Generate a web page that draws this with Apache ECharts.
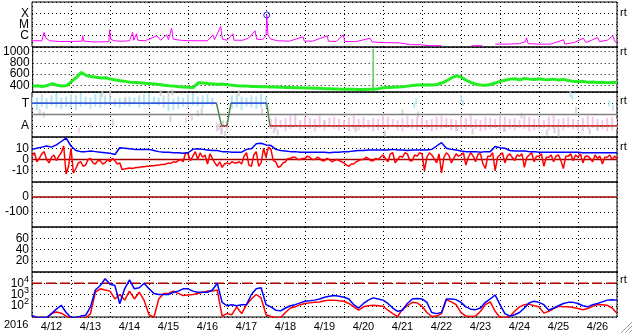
<!DOCTYPE html>
<html><head><meta charset="utf-8">
<script src="https://cdn.jsdelivr.net/npm/echarts@6.0.0/dist/echarts.min.js"></script>
<style>html,body{margin:0;padding:0;background:#fff;overflow:hidden}#chart{width:633px;height:334px}</style>
</head><body><div id="chart"></div>
<script>
// ================= DATA =================
const dayLabels = ['4/12','4/13','4/14','4/15','4/16','4/17','4/18','4/19','4/20','4/21','4/22','4/23','4/24','4/25','4/26'];
const yearLabel = '2016';
const sampleStepDays = 0.125;   // 3-hour samples, day 0 = 4/12 00:00
const bzStepDays = 0.0625;      // 1.5-hour samples

// Panel 1: X-ray flux (W/m2)
const xrayClassFlux = [1e-6, 1e-5, 1e-4];
const xrayClassLabels = ['C', 'M', 'X'];
const xrayDay = [0,0.25,0.31,0.36,0.45,0.7,1.0,1.28,1.30,1.33,1.6,1.97,1.99,2.02,2.1,2.3,2.5,2.58,2.61,2.68,2.71,2.9,3.0,3.2,3.3,3.45,3.5,3.58,3.62,3.8,4.0,4.3,4.5,4.64,4.68,4.84,4.88,5.0,5.15,5.18,5.4,5.55,5.72,5.76,5.9,6.0,6.02,6.05,6.12,6.3,6.6,6.95,6.98,7.2,7.57,7.6,7.8,7.98,8.02,8.3,8.67,8.72,9.0,9.44,9.7,9.95,10.2,10.5,10.55,11.27,11.55,11.57,11.88,12.2,12.5,12.65,12.68,12.72,13.0,13.3,13.63,13.66,13.9,14.14,14.2,14.35,14.5,14.55,14.75,14.89,14.95,15.0];
const xrayFlux = [3.6e-7,3.6e-7,2e-6,6e-7,3.6e-7,3.1e-7,3.1e-7,3.3e-7,1e-6,3.3e-7,2.8e-7,3e-7,3.4e-6,5e-7,3.6e-7,3.2e-7,3.6e-7,2e-6,4e-7,1.5e-6,4e-7,3.6e-7,5e-7,1e-6,4e-7,1.2e-6,4.5e-7,4.8e-6,5e-7,4e-7,3.6e-7,3.6e-7,3.6e-7,1.2e-6,4.5e-7,6.6e-6,5e-7,4e-7,1.5e-6,4e-7,4e-7,6e-7,2.8e-6,5e-7,4.5e-7,1e-6,7e-5,1.2e-6,5e-7,3.6e-7,3.3e-7,8e-7,3.3e-7,3.3e-7,1e-6,3.3e-7,3.1e-7,1.2e-6,3.1e-7,3e-7,6e-7,2.8e-7,2.5e-7,2.3e-7,1.6e-7,1.6e-7,1.3e-7,1.3e-7,null,1.3e-7,1.3e-7,null,1.8e-7,1.8e-7,2e-7,3e-7,6.6e-7,2e-7,1.8e-7,1.8e-7,4.4e-7,1.8e-7,2.5e-7,6e-7,2.5e-7,4e-7,7e-7,3e-7,4e-7,1e-6,3e-7,2.5e-7];
const flarePeakDay = [6.02];
const flarePeakFlux = [7e-5];

// Panel 2: solar wind speed (km/s), 3-hour samples
const speedTicks = [400, 600, 800, 1000];
const speedKmS = [
 385,392,378,395,430,400,388,395,
 470,540,630,575,555,545,530,535,
 510,495,480,470,455,450,445,435,
 430,425,415,400,392,385,375,370,
 365,362,445,440,430,425,420,422,
 410,400,392,388,385,380,378,375,
 372,370,368,365,362,360,358,355,
 352,350,348,345,340,338,335,332,
 330,328,327,325,325,328,330,340,
 355,362,365,370,375,385,395,405,
 405,410,405,415,440,480,530,570,
 545,490,450,420,405,400,415,440,
 470,490,510,515,500,520,510,505,
 515,505,500,510,495,505,485,470,
 465,470,455,460,450,455,445,450,
 450];
const speedSpikeDay = [8.73, 8.74, 8.75];
const speedSpikeKmS = [330, 1050, 330];

// Panel 3: IMF sector (T = toward, A = away)
const sectorTickValues = [1, 3];
const sectorTickLabels = ['A', 'T'];
const sectorMidLevel = 2;
const sectorDay = [0, 4.73, 4.86, 5.0, 5.1, 6.02, 6.1, 15];
const sectorLevel = [3, 3, 1, 1, 3, 3, 1, 1];
const towardStartDay = 0;
const towardLo = [2.6,2.4,2.7,2.5,2.8,2.6,2.5,2.7, 2.6,2.4,2.7,2.8,2.5,2.7,2.6,2.8, 2.9,2.7,2.6,2.8,2.7,2.9,2.6,2.8, 2.7,2.9,2.8,2.6,2.3,2.4,2.5,2.7, 2.6,2.8,2.7,2.6,2.9,2.8,null,null, null,2.5,2.6,2.4,2.7,2.6,2.5,2.6, 2.7];
const towardHi = [3.6,3.5,3.8,3.4,3.7,3.9,3.5,3.6, 3.8,3.7,3.9,3.6,3.5,3.8,3.9,3.7, 3.6,3.4,3.5,3.4,3.6,3.5,3.7,3.8, 3.9,3.6,3.5,3.7,3.5,3.4,3.6,3.5, 3.8,3.9,3.6,3.7,3.8,3.5,null,null, null,3.7,3.8,3.6,3.5,3.7,3.6,3.8, 3.6];
const awayDipStartDay = 4.75;
const awayDipLo = [0.5, 0.3, 0.6];
const awayDipHi = [1.3, 1.2, 1.4];
const awayStartDay = 6.125;
const awayLo = [0.7,0.6,0.8,0.5,0.7,0.9,0.6,0.8, 0.7,0.5,0.8,0.6,0.9,0.7,0.6,0.8, 0.5,0.7,0.6,0.8,0.7,0.5,0.6,0.8, 0.7,0.9,0.6,0.5,0.8,0.7,0.6,0.8, 0.7,0.5,0.6,0.7,0.8,0.6,0.5,0.7, 0.6,0.8,0.7,0.5,0.6,0.7,0.8,0.6, 0.5,0.7,0.6,0.8,0.7,0.5,0.6,0.7, 0.8,0.6,0.7,0.5,0.6,0.8,0.7,0.6, 0.5,0.7,0.8,0.6,0.7,0.5,0.6,0.7];
const awayHi = [1.6,1.8,1.5,1.7,1.9,1.6,1.5,1.8, 1.7,1.6,1.9,1.5,1.7,1.8,1.6,1.5, 1.7,1.9,1.6,1.8,1.5,1.7,1.6,1.9, 1.8,1.6,1.5,1.7,1.9,1.6,1.8,1.7, 1.5,1.6,1.8,1.9,1.7,1.6,1.5,1.8, 1.7,1.9,1.6,1.5,1.8,1.7,1.6,1.9, 1.8,1.6,1.7,1.5,1.9,1.8,1.6,1.7, 1.5,1.8,1.9,1.6,1.7,1.8,1.6,1.5, 1.7,1.9,1.8,1.6,1.5,1.7,1.8,1.6];
const grayDotDay = [0.2,0.3,1.8,2.0,2.07,2.4,3.3,3.5,3.6,3.55,4.25,4.35,4.8,4.85,4.9,4.95,5.3,5.9,6.2,6.3,6.75,7.5,8.3,9.05,9.5,9.9,10.9,11.3,12.1,12.55,13.2,13.4,13.5,13.95,14.3,14.5];
const grayDotVal = [2.2,2.0,3.8,3.9,1.3,3.3,3.9,3.8,3.95,1.6,2.1,2.3,0.9,0.5,1.2,0.3,3.9,2.3,0.6,0.4,1.8,1.2,0.7,0.3,2.2,2.0,0.8,0.5,0.7,1.9,0.4,0.6,0.3,2.4,0.5,0.8];
const towardDotDay = [9.8,9.85,11.0,11.05,13.8,13.85,14.8,14.9];
const towardDotVal = [2.8,3.2,3.5,3.0,3.8,3.6,3.0,2.6];
const awayDotDay = [1.2,1.5,3.95,4.1];
const awayDotVal = [0.6,1.0,1.5,1.7];

// Panel 4: IMF Bt (blue, 3-hour) and Bz (red, 1.5-hour), nT
const imfTicks = [-10, 0, 10];
const imfBt = [
 9,10,11,12,11,13,16,19,
 12,8,7,7,7.5,7,6.5,6,
 5.5,4.5,10.5,10,9.5,9,9,9,
 9,8,7,6.5,6.5,6,6,5.5,
 6,9,9.5,9,8.5,8,8,7,
 7,6.5,6.5,6.5,9,9.5,14,14.5,
 13,12.5,9,8,7.5,7,7,6.5,
 6.5,6.5,6.5,6.5,6.5,6,6.5,6.5,
 7,7,7.5,8,8,8.5,8.5,8.5,
 8.5,8.5,9,8.5,8.5,8,8.5,8.5,
 8.5,8.5,9,12,15,10,9,8.5,
 7.5,7,7,7,6.5,7,7,11.5,
 10.5,10,8,7.5,7.5,7.5,7,7,
 6.5,6.5,6.5,6.5,6.5,6.5,6.5,6.5,
 6.5,6,6,6,6,6,6,6,
 6];
const imfBz = [
 3,6,-2,1,5,7,0,-3,2,4,-1,3,6,12,-13,-6,
 10,-12,-8,-3,-2,-6,-5,0,1,-3,-4,-1,-1,-4,-3,0,
 -2,1,-1,-4,-3,-9,-8.5,-8,-7.5,-8,-7.5,-7,-7,-6.5,-6.5,-6,
 -6,-5.5,-5.5,-5,-5,-4.5,-4.5,-4,-3,-3.5,-2,-2.5,-1,0,-2,6,
 5,-1,3,7,0,6,2,4,-4,5,1,-3,-6,-2,-7,-4,
 -3,-4,-2,-3,-3,-2,-4,3,6,-5,-6,4,7,-6,-3,10,
 2,11,9,-1,-2,-7,-6,-3,-2,1,1,2,2,0,0,1,
 1,3,2,0,0,2,1,-1,-1,1,0,-2,-1,0,-1,-2,
 -3,-5,-6,-4,-4,-2,-1,0,0,2,1,-1,-1,1,0,2,
 4,1,-2,5,6,-3,0,3,2,6,5,-1,-1,4,3,6,
 5,-10,2,6,4,1,-3,5,-12,2,6,4,-3,1,5,3,
 4,6,-5,2,6,3,-2,5,5,-4,-8,3,3,6,-10,2,
 4,6,-3,3,5,2,-1,4,3,5,-7,2,4,6,-2,3,
 3,5,-6,2,2,4,-2,3,4,-1,-8,3,3,5,-1,4,
 2,5,-3,3,3,1,-2,4,1,3,-4,2,2,4,0,3,
 1];

// Panel 5 & 6
const dstTicks = [-100, 0];
const panel6Ticks = [20, 40, 60];
const zeroLevel = 0;

// Panel 7: electron flux, 3-hour samples
const fluxTickExp = [2, 3, 4];
const fluxAlertLevel = 1e4;
const fluxBlue = [
 14,9,9,9,20,50,110,25,
 9,9,12,14,80,2500,6300,25000,
 8000,6300,150,3200,20000,3200,4000,10000,
 3200,1250,1000,1000,1000,1600,2000,3200,
 3200,2000,1600,1600,1600,2500,10000,200,
 100,125,100,125,125,1000,3200,4000,
 125,80,40,35,63,100,125,180,
 250,280,316,400,560,700,800,700,
 560,400,125,63,160,316,500,400,
 316,160,63,32,40,160,400,450,
 400,200,25,20,25,400,400,350,
 200,80,50,45,63,200,400,900,
 125,20,12,16,25,63,180,250,
 200,125,40,63,100,160,200,200,
 160,100,80,125,160,220,316,350,
 316];
const fluxRed = [
 8,8,8,8,20,28,22,12,
 8,8,8,8,20,1600,3200,2500,
 2000,400,1000,316,2000,400,1600,300,
 16,9,400,1250,1250,2000,1250,800,
 900,1000,1250,1600,2000,2000,2500,12,
 20,16,80,20,125,400,1000,500,
 16,11,9,9,25,63,80,125,
 160,180,200,220,280,316,316,280,
 250,160,80,40,80,100,110,100,
 90,40,20,11,50,100,200,180,
 90,25,11,12,20,350,220,125,
 25,12,11,12,32,125,220,32,
 9,9,11,32,80,125,140,100,
 80,22,32,56,90,80,80,70,
 56,45,56,90,125,125,110,63,
 22];

// ================= CHART =================
const FONT = '"Liberation Sans", Arial, sans-serif';
const panelTop = [2, 47, 92, 137, 182, 227, 272];
const PANEL_H = 45, LEFT = 32, WIDTH = 585;
const nDays = dayLabels.length;

const seriesStep = (vals, step) => vals.map((v, i) => [i * step, v]);
const zip = (xs, ys) => xs.map((x, i) => [x, ys[i] == null ? NaN : ys[i]]);

const dotted = { show: true, lineStyle: { color: '#000', type: [1, 3], width: 1 } };
const lab = (extra) => Object.assign({ show: true, color: '#000', fontSize: 12, fontFamily: FONT, margin: 3, showMinLabel: true, showMaxLabel: true }, extra);
const noLine = { show: false };
const pick = (list) => (v => list.some(t => Math.abs(t - v) < 1e-6) ? String(v) : '');

const grids = panelTop.map(t => ({ left: LEFT, top: t, width: WIDTH, height: PANEL_H, show: true, borderColor: '#000', borderWidth: 1, backgroundColor: 'transparent' }));

const xAxes = panelTop.map((t, i) => ({
  gridIndex: i, type: 'value', min: 0, max: nDays, interval: 1,
  axisLine: noLine, axisTick: { show: false },
  axisLabel: i === 6 ? {
    show: true, customValues: dayLabels.map((_, k) => k + 0.5),
    formatter: v => dayLabels[Math.floor(v)], fontSize: 11, color: '#000', fontFamily: FONT, margin: 4
  } : { show: false },
  splitLine: dotted
}));

const yAxes = [
  { gridIndex: 0, type: 'log', logBase: 10, min: 1e-7, max: 1e-3, axisLine: noLine, axisTick: { show: false }, splitLine: dotted,
    axisLabel: lab({ formatter: v => { const k = xrayClassFlux.findIndex(f => Math.abs(Math.log10(f) - Math.log10(v)) < 0.01); return k >= 0 ? xrayClassLabels[k] : ''; } }) },
  { gridIndex: 1, type: 'value', min: 280, max: 1084, splitNumber: 4, axisLine: noLine, axisTick: { show: false }, splitLine: dotted,
    axisLabel: lab({ formatter: pick(speedTicks) }) },
  { gridIndex: 2, type: 'value', min: 0, max: 4, interval: 1, axisLine: noLine, axisTick: { show: false }, splitLine: dotted,
    axisLabel: lab({ formatter: v => { const k = sectorTickValues.indexOf(v); return k >= 0 ? sectorTickLabels[k] : ''; } }) },
  { gridIndex: 3, type: 'value', min: -20, max: 20, interval: 10, axisLine: noLine, axisTick: { show: false }, splitLine: dotted,
    axisLabel: lab({ formatter: pick(imfTicks) }) },
  { gridIndex: 4, type: 'value', min: -200, max: 100, interval: 100, axisLine: noLine, axisTick: { show: false }, splitLine: dotted,
    axisLabel: lab({ formatter: pick(dstTicks) }) },
  { gridIndex: 5, type: 'value', min: 0, max: 80, interval: 20, axisLine: noLine, axisTick: { show: false }, splitLine: dotted,
    axisLabel: lab({ formatter: pick(panel6Ticks) }) },
  { gridIndex: 6, type: 'log', logBase: 10, min: 10, max: 1e5, axisLine: noLine, axisTick: { show: false }, splitLine: dotted,
    axisLabel: lab({
      formatter: v => { const e = Math.round(Math.log10(v)); return fluxTickExp.includes(e) ? '{b|10}{s|' + e + '}' : ''; },
      rich: { b: { fontSize: 12, fontFamily: FONT, color: '#000' }, s: { fontSize: 9, fontFamily: FONT, color: '#000', padding: [0, 0, 8, 0] } }
    }) }
];

function bandSeries(startDay, lo, hi, color, name) {
  const data = [];
  lo.forEach((l, i) => { if (l != null && hi[i] != null) data.push([startDay + i * sampleStepDays, l, hi[i]]); });
  return {
    type: 'custom', name, xAxisIndex: 2, yAxisIndex: 2, clip: true, silent: true, z: 1,
    encode: { x: 0, y: [1, 2] }, data,
    renderItem: (params, api) => {
      const a = api.coord([api.value(0), api.value(2)]);
      const b = api.coord([api.value(0), api.value(1)]);
      return { type: 'rect', shape: { x: a[0] - 1, y: a[1], width: 2, height: b[1] - a[1] }, style: { fill: color } };
    }
  };
}

const sectorGreen = zip(sectorDay, sectorLevel);
const sectorT = [], sectorA = [];
for (let k = 0; k < sectorDay.length - 1; k++) {
  if (sectorLevel[k] === sectorLevel[k + 1]) {
    const target = sectorLevel[k] === 3 ? sectorT : sectorA;
    target.push([sectorDay[k], sectorLevel[k]], [sectorDay[k + 1], sectorLevel[k + 1]], [sectorDay[k + 1], NaN]);
  }
}

const lineBase = (xi, data, color, width, z, dash) => ({
  type: 'line', xAxisIndex: xi, yAxisIndex: xi, data, symbol: 'none', showSymbol: false,
  lineStyle: { color, width, type: dash || 'solid' }, itemStyle: { color }, connectNulls: false, clip: true, silent: true, z: z || 2
});

const series = [
  lineBase(0, zip(xrayDay, xrayFlux), '#ff00ff', 1),
  { type: 'scatter', xAxisIndex: 0, yAxisIndex: 0, data: zip(flarePeakDay, flarePeakFlux), symbol: 'circle', symbolSize: 6,
    itemStyle: { color: 'rgba(0,0,0,0)', borderColor: '#0000ff', borderWidth: 1 }, silent: true, z: 3 },
  lineBase(1, seriesStep(speedKmS, sampleStepDays), '#22ee22', 3),
  lineBase(1, zip(speedSpikeDay, speedSpikeKmS), '#66cc66', 1),
  bandSeries(towardStartDay, towardLo, towardHi, '#b4e4f4', 'toward'),
  bandSeries(awayDipStartDay, awayDipLo, awayDipHi, '#f4c4ee', 'awayDip'),
  bandSeries(awayStartDay, awayLo, awayHi, '#f4c4ee', 'away'),
  { type: 'scatter', xAxisIndex: 2, yAxisIndex: 2, data: zip(grayDotDay, grayDotVal), symbol: 'rect', symbolSize: [2, 6], itemStyle: { color: '#cccccc' }, silent: true, z: 1 },
  { type: 'scatter', xAxisIndex: 2, yAxisIndex: 2, data: zip(towardDotDay, towardDotVal), symbol: 'rect', symbolSize: [2, 6], itemStyle: { color: '#b4e4f4' }, silent: true, z: 1 },
  { type: 'scatter', xAxisIndex: 2, yAxisIndex: 2, data: zip(awayDotDay, awayDotVal), symbol: 'rect', symbolSize: [2, 5], itemStyle: { color: '#f4c4ee' }, silent: true, z: 1 },
  lineBase(2, [[0, sectorMidLevel], [nDays, sectorMidLevel]], '#808080', 1.5, 3),
  lineBase(2, sectorGreen, '#4a8a4a', 1.5, 4),
  lineBase(2, sectorT, '#3355ee', 1.5, 5),
  lineBase(2, sectorA, '#dd3333', 1.5, 5),
  lineBase(3, [[0, zeroLevel], [nDays, zeroLevel]], '#a00000', 1.5, 2),
  lineBase(3, seriesStep(imfBz, bzStepDays), '#ff0000', 1.5, 3),
  lineBase(3, seriesStep(imfBt, sampleStepDays), '#0000ff', 1.5, 4),
  lineBase(4, [[0, zeroLevel], [nDays, zeroLevel]], '#a00000', 1.5, 2),
  lineBase(6, [[0, fluxAlertLevel], [nDays, fluxAlertLevel]], '#b00000', 1.5, 2, [10, 4]),
  lineBase(6, seriesStep(fluxRed, sampleStepDays), '#ff0000', 1.5, 3),
  lineBase(6, seriesStep(fluxBlue, sampleStepDays), '#0000ff', 1.5, 4)
];

const rtY = [13, 52, 101, 147, 280];
const graphic = [
  { type: 'text', left: 4, top: 319, style: { text: yearLabel, font: '11px ' + FONT, fill: '#000' } }
].concat(rtY.map(y => ({ type: 'text', left: 620, top: y - 6, style: { text: 'rt', font: '11px ' + FONT, fill: '#000' } })))
 .concat([0, 4, 8].map(o => ({ type: 'line', shape: { x1: 621 + o, y1: 333, x2: 632, y2: 322 + o }, style: { stroke: '#a0a0a0', lineWidth: 1 } })));

const chart = echarts.init(document.getElementById('chart'), null, { renderer: 'canvas' });
chart.setOption({
  animation: false,
  backgroundColor: '#fff',
  grid: grids, xAxis: xAxes, yAxis: yAxes, series, graphic
});
</script></body></html>
